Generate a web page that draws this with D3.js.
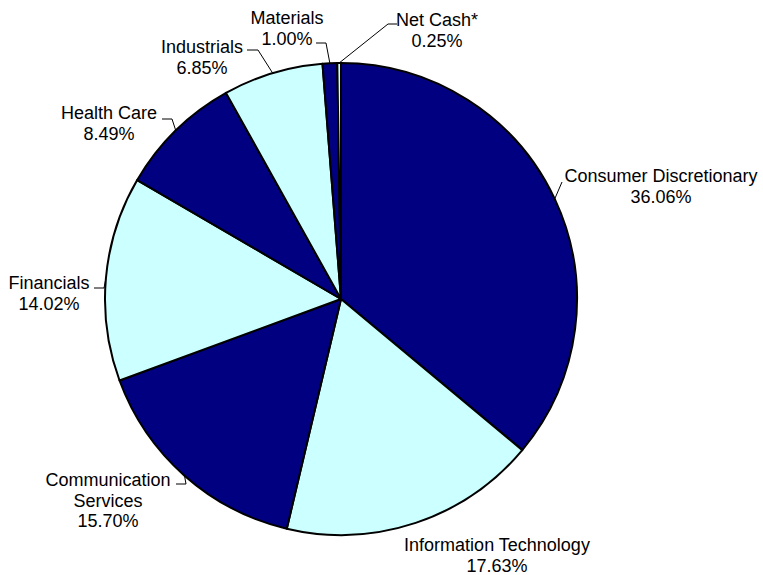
<!DOCTYPE html>
<html>
  <head>
    <script src="https://d3js.org/d3.v7.min.js"></script>
    <style>
      body { margin: 0; background: #fff; }
      text { font-family: "Liberation Sans", Arial, sans-serif; font-size: 18px; fill: #000; }
    </style>
  </head>
  <body>
    <script>
      // sector weights, in chart order (clockwise from 12 o'clock)
      const sectors = ["Consumer Discretionary", "Information Technology", "Communication Services",
                       "Financials", "Health Care", "Industrials", "Materials", "Net Cash*"];
      const weights = [36.06, 17.63, 15.70, 14.02, 8.49, 6.85, 1.00, 0.25];

      const width = 763;
      const height = 575;
      const cx = 341, cy = 299, radius = 236;
      const colors = ["#000080", "#ccffff"];

      // label placement: text centre x, first baseline y, line breaks, leader elbow points
      const labelLayout = {
        "Consumer Discretionary": { x: 661, y: 182, lines: ["Consumer Discretionary"], leader: [[562, 182]] },
        "Information Technology": { x: 497, y: 551, lines: ["Information Technology"], leader: null },
        "Communication Services": { x: 108, y: 486, lines: ["Communication", "Services"], leader: [[186, 484], [176, 484]] },
        "Financials": { x: 49, y: 289, lines: ["Financials"], leader: [[104, 288], [94, 288]] },
        "Health Care": { x: 109, y: 119, lines: ["Health Care"], leader: [[172, 119], [162, 119]] },
        "Industrials": { x: 202, y: 53, lines: ["Industrials"], leader: [[258, 50], [247, 50]] },
        "Materials": { x: 287, y: 24, lines: ["Materials"], leader: [[326, 43], [316, 43]] },
        "Net Cash*": { x: 437, y: 26, lines: ["Net Cash*"], leader: [[388, 24], [397, 24]] }
      };

      const data = sectors.map((s, i) => ({ sector: s, value: weights[i] }));

      const svg = d3.select("body")
        .append("svg")
        .attr("width", width)
        .attr("height", height);

      const pie = d3.pie()
        .sort(null)
        .value(d => d.value);

      const arc = d3.arc()
        .innerRadius(0)
        .outerRadius(radius);

      const arcs = pie(data);

      const g = svg.append("g")
        .attr("transform", `translate(${cx},${cy})`);

      g.selectAll("path")
        .data(arcs)
        .join("path")
        .attr("d", arc)
        .attr("fill", (d, i) => colors[i % 2])
        .attr("stroke", "#000")
        .attr("stroke-width", 2)
        .attr("stroke-linejoin", "round");

      // leader lines start at the slice mid-angle on the rim
      const rimPoint = d => {
        const a = (d.startAngle + d.endAngle) / 2;
        return [cx + radius * Math.sin(a), cy - radius * Math.cos(a)];
      };

      const line = d3.line();

      arcs.forEach(d => {
        const lay = labelLayout[d.data.sector];
        if (lay.leader) {
          svg.append("path")
            .attr("d", line([rimPoint(d)].concat(lay.leader)))
            .attr("fill", "none")
            .attr("stroke", "#000")
            .attr("stroke-width", 1);
        }
        const t = svg.append("text")
          .attr("text-anchor", "middle")
          .attr("x", lay.x)
          .attr("y", lay.y);
        lay.lines.concat([d.data.value.toFixed(2) + "%"]).forEach((s, i) => {
          t.append("tspan")
            .attr("x", lay.x)
            .attr("dy", i === 0 ? 0 : 20.5)
            .text(s);
        });
      });
    </script>
  </body>
</html>
